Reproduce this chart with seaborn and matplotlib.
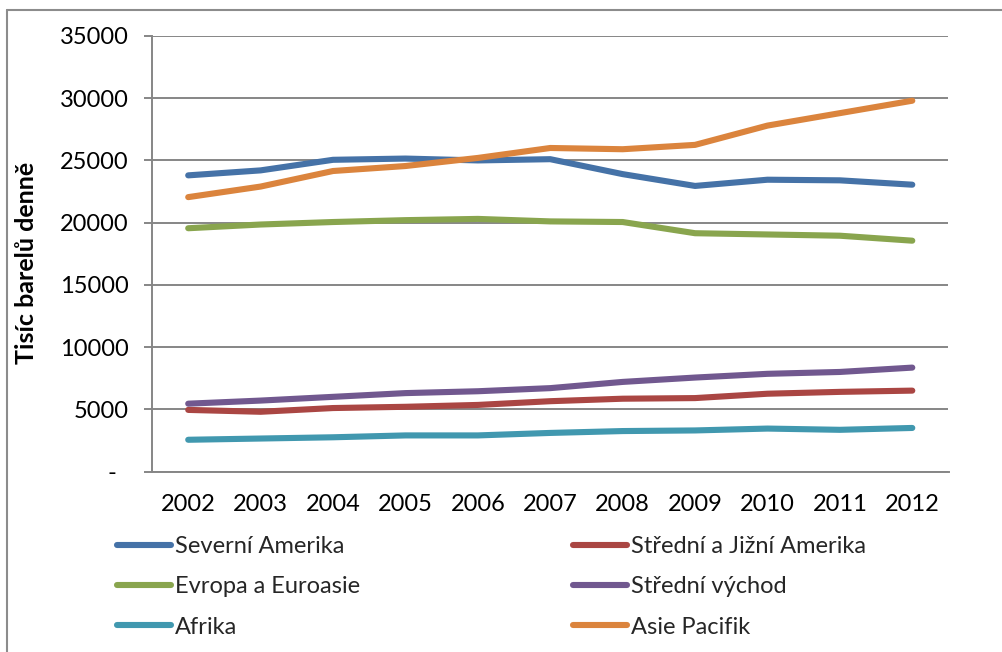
import matplotlib
matplotlib.use("Agg")
import matplotlib.pyplot as plt
import matplotlib.lines as mlines
import numpy as np
import pandas as pd
import seaborn as sns

years = [2002, 2003, 2004, 2005, 2006, 2007, 2008, 2009, 2010, 2011, 2012]

severni_amerika = [23800, 24200, 25050, 25150, 25000, 25100, 23900, 22950, 23450, 23400, 23050]
stredni_jizni_amerika = [4950, 4800, 5100, 5200, 5350, 5650, 5850, 5900, 6250, 6400, 6500]
evropa_euroasie = [19550, 19850, 20050, 20200, 20300, 20100, 20050, 19150, 19050, 18950, 18550]
stredni_vychod = [5450, 5700, 6000, 6300, 6450, 6700, 7200, 7550, 7850, 8000, 8350]
afrika = [2550, 2650, 2750, 2900, 2900, 3100, 3250, 3300, 3450, 3350, 3500]
asie_pacifik = [22050, 22900, 24150, 24550, 25200, 26000, 25900, 26250, 27800, 28800, 29800]

series_names = ["Severní Amerika", "Střední a Jižní Amerika", "Evropa a Euroasie",
                "Střední východ", "Afrika", "Asie Pacifik"]
series_values = [severni_amerika, stredni_jizni_amerika, evropa_euroasie,
                 stredni_vychod, afrika, asie_pacifik]
colors = ["#4572A7", "#AA4643", "#89A54E", "#71588F", "#4198AF", "#DB843D"]

y_ticks = [0, 5000, 10000, 15000, 20000, 25000, 30000, 35000]
y_tick_labels = ["-  ", "5000", "10000", "15000", "20000", "25000", "30000", "35000"]
y_label = "Tisíc barelů denně"

rows = []
for name, vals in zip(series_names, series_values):
    for i, (yr, v) in enumerate(zip(years, vals)):
        rows.append({"pos": i, "rok": yr, "region": name, "hodnota": v})
df = pd.DataFrame(rows)

sns.set_theme(style="white")
plt.rcParams["font.family"] = ["Lato", "DejaVu Sans"]

W, H = 1003, 652
fig = plt.figure(figsize=(W / 100, H / 100), dpi=100)
L, R, T, B = 152, 948.5, 36, 471.5
ax = fig.add_axes([L / W, 1 - B / H, (R - L) / W, (B - T) / H])

palette = dict(zip(series_names, colors))
sns.lineplot(data=df, x="pos", y="hodnota", hue="region", hue_order=series_names,
             palette=palette, linewidth=4.4, ax=ax, legend=False, sort=False)
for ln in ax.get_lines():
    ln.set_solid_capstyle("round")
    ln.set_solid_joinstyle("round")

grid_c = "#868686"
fs = 17
ax.set_xlim(-0.5, len(years) - 0.5)
ax.set_ylim(0, 35000)
ax.set_yticks(y_ticks)
ax.set_yticklabels(y_tick_labels)
ax.yaxis.grid(True, color=grid_c, linewidth=1.4)
ax.set_axisbelow(True)

ax.set_xticks(range(len(years)))
ax.set_xticklabels([str(y) for y in years])
ax.set_xticks(np.arange(-0.5, len(years), 1.0), minor=True)
ax.tick_params(axis="x", which="major", length=0, pad=16, labelsize=fs, labelcolor="black")
ax.tick_params(axis="x", which="minor", length=7, width=1.4, color=grid_c, direction="out")
ax.tick_params(axis="y", which="major", length=6, width=1.4, color=grid_c, pad=11,
               labelsize=fs, labelcolor="black", left=True)
ax.set_xlabel("")
ax.set_ylabel("")

for side in ["top", "right"]:
    ax.spines[side].set_visible(False)
for side in ["left", "bottom"]:
    ax.spines[side].set_color(grid_c)
    ax.spines[side].set_linewidth(1.4)

fig.text(27 / W, 1 - 263 / H, y_label, rotation=90, ha="center", va="center",
         fontsize=18, fontweight="bold", color="black")

# legend in two columns
handles = [mlines.Line2D([], [], color=c, linewidth=4.4, solid_capstyle="round") for c in colors]
col1 = [0, 2, 4]
col2 = [1, 3, 5]
legend_kw = dict(frameon=False, fontsize=fs, handlelength=2.3, handletextpad=0.15,
                 labelspacing=0.82, borderpad=0, borderaxespad=0, loc="upper left")
fig.legend([handles[i] for i in col1], [series_names[i] for i in col1],
           bbox_to_anchor=(117 / W, 1 - 536 / H), **legend_kw)
fig.legend([handles[i] for i in col2], [series_names[i] for i in col2],
           bbox_to_anchor=(573 / W, 1 - 536 / H), **legend_kw)

# chart frame
frame_c = "#8c8c8c"
fig.add_artist(mlines.Line2D([7 / W, 1.0], [1 - 10 / H, 1 - 10 / H], transform=fig.transFigure,
                             color=frame_c, linewidth=1.5))
fig.add_artist(mlines.Line2D([7 / W, 7 / W], [1 - 10 / H, 0.0], transform=fig.transFigure,
                             color=frame_c, linewidth=1.5))

fig.savefig("out.png", dpi=100)
